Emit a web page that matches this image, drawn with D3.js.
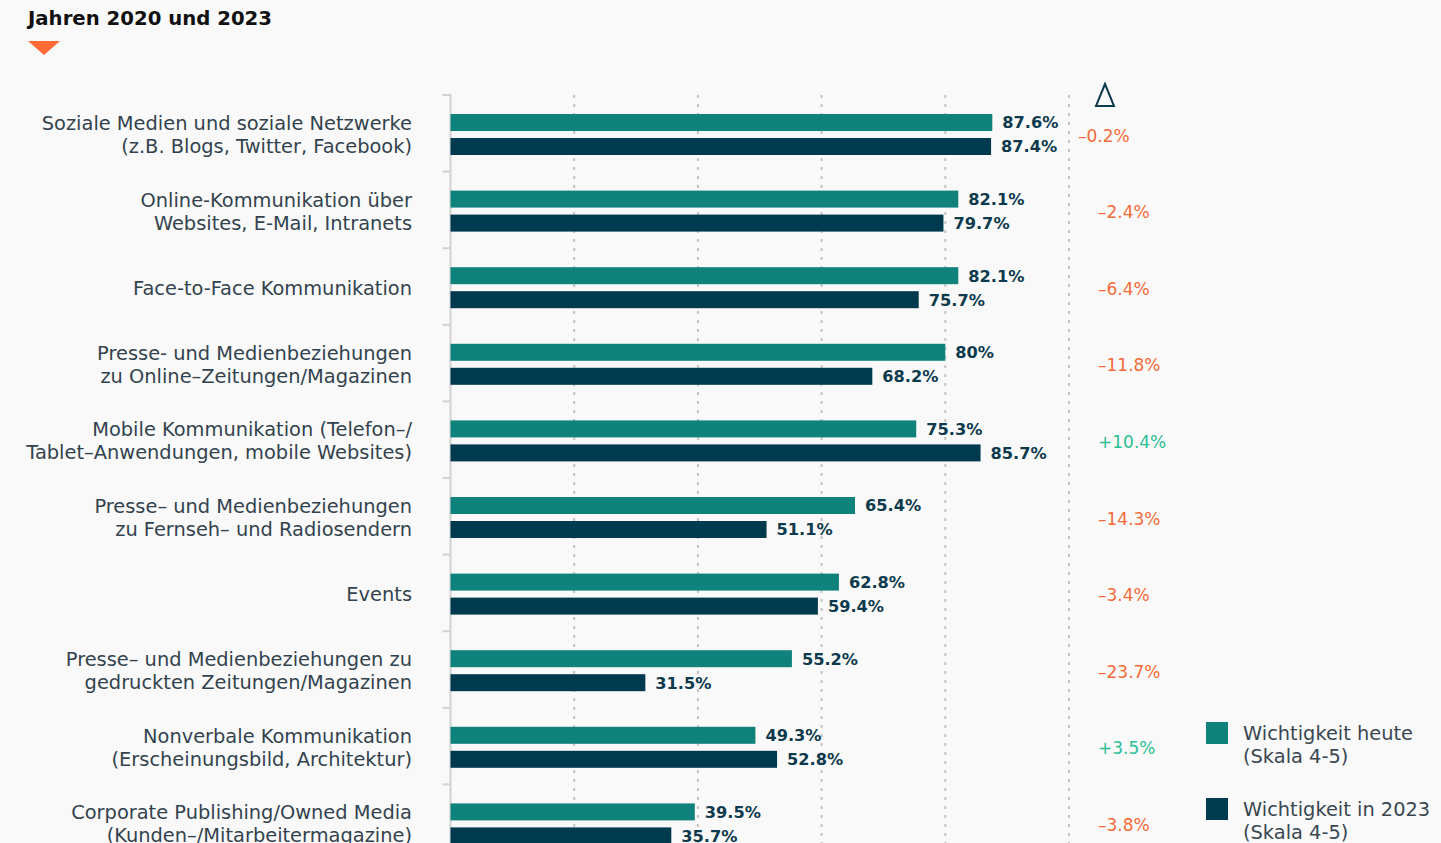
<!DOCTYPE html>
<html><head><meta charset="utf-8">
<script src="https://cdn.jsdelivr.net/npm/d3@7"></script>
<style>
html,body{margin:0;padding:0;background:#f9f9f9;overflow:hidden}
svg{display:block}
text{font-family:"DejaVu Sans","Open Sans",sans-serif}
</style></head>
<body><svg id="c" width="1441" height="843"></svg>
<script>
const titleText = "Jahren 2020 und 2023";
const categories = [
  "Soziale Medien und soziale Netzwerke|(z.B. Blogs, Twitter, Facebook)",
  "Online-Kommunikation über|Websites, E-Mail, Intranets",
  "Face-to-Face Kommunikation",
  "Presse- und Medienbeziehungen|zu Online–Zeitungen/Magazinen",
  "Mobile Kommunikation (Telefon–/|Tablet–Anwendungen, mobile Websites)",
  "Presse– und Medienbeziehungen|zu Fernseh– und Radiosendern",
  "Events",
  "Presse– und Medienbeziehungen zu|gedruckten Zeitungen/Magazinen",
  "Nonverbale Kommunikation|(Erscheinungsbild, Architektur)",
  "Corporate Publishing/Owned Media|(Kunden–/Mitarbeitermagazine)"
];
const valuesToday = [87.6, 82.1, 82.1, 80, 75.3, 65.4, 62.8, 55.2, 49.3, 39.5];
const values2023  = [87.4, 79.7, 75.7, 68.2, 85.7, 51.1, 59.4, 31.5, 52.8, 35.7];
const deltas      = [-0.2, -2.4, -6.4, -11.8, 10.4, -14.3, -3.4, -23.7, 3.5, -3.8];
const gridTicks   = [20, 40, 60, 80, 100];
const seriesKeys  = ["heute", "2023"];
const legendLabels = [["Wichtigkeit heute", "(Skala 4-5)"], ["Wichtigkeit in 2023", "(Skala 4-5)"]];

const colors = {heute: "#10827c", "2023": "#003a4f"};
const svg = d3.select("#c");

// title
svg.append("text").attr("x", 28).attr("y", 25).attr("font-size", 19.7).attr("font-weight", 700)
  .attr("fill", "#111").text(titleText);
svg.append("path").attr("d", "M28,41 L60,41 L44,55 Z").attr("fill", "#ff6b35");

const x = d3.scaleLinear().domain([0, 100]).range([450.5, 1069]);
const y = d3.scaleBand().domain(d3.range(categories.length)).range([95, 95 + 76.6 * categories.length]);
const ySub = d3.scaleBand().domain(seriesKeys).range([19, 60]).paddingInner(0.2917);

// gridlines
svg.append("g").selectAll("line").data(gridTicks).join("line")
  .attr("x1", d => x(d)).attr("x2", d => x(d)).attr("y1", 95).attr("y2", 843)
  .attr("stroke", "#c4c4c4").attr("stroke-width", 2).attr("stroke-dasharray", "3,6");

// axis
const axis = d3.axisLeft(y).tickSize(8).tickFormat("").tickSizeOuter(0);
const axisG = svg.append("g").attr("transform", `translate(${x(0)},0)`).call(axis);
axisG.selectAll(".tick").attr("transform", d => `translate(0,${y(d)})`);
axisG.selectAll(".tick line").attr("stroke", "#d2d2d2").attr("stroke-width", 2);
axisG.select(".domain").attr("stroke", "#d2d2d2").attr("stroke-width", 2).attr("d", `M-8,95 H0 V843`);

const data = categories.map((c, i) => ({i, c, heute: valuesToday[i], "2023": values2023[i], delta: deltas[i]}));

const rows = svg.append("g").selectAll("g").data(data).join("g")
  .attr("transform", d => `translate(0,${y(d.i)})`);

rows.selectAll("rect").data(d => seriesKeys.map(k => ({k, v: d[k]}))).join("rect")
  .attr("x", x(0)).attr("y", d => ySub(d.k)).attr("height", ySub.bandwidth())
  .attr("width", d => x(d.v) - x(0)).attr("fill", d => colors[d.k]);

rows.selectAll("text.val").data(d => seriesKeys.map(k => ({k, v: d[k]}))).join("text")
  .attr("class", "val").attr("x", d => x(d.v) + 10).attr("y", d => ySub(d.k) + ySub.bandwidth() / 2)
  .attr("dy", "0.36em").attr("font-size", 16.2).attr("font-weight", 700).attr("fill", "#0d3a4c")
  .text(d => d.v + "%");

const center = ySub.range()[0] + (ySub.range()[1] - ySub.range()[0]) / 2;
// category labels
rows.each(function(d) {
  const lines = d.c.split("|");
  const t = d3.select(this).append("text").attr("text-anchor", "end").attr("font-size", 19.4)
    .attr("fill", "#33434e");
  lines.forEach((l, j) => {
    t.append("tspan").attr("x", 412)
      .attr("y", center + (j - (lines.length - 1) / 2) * 23).attr("dy", "0.36em").text(l);
  });
});

// deltas
rows.append("text").attr("x", d => d.i === 0 ? 1078 : 1098).attr("y", center + 1).attr("dy", "0.36em")
  .attr("font-size", 17).attr("fill", d => d.delta < 0 ? "#f26b38" : "#2bbf95")
  .text(d => (d.delta < 0 ? "–" : "+") + Math.abs(d.delta) + "%");

// delta header
svg.append("path").attr("d", "M1105,84 L1096,106 L1114,106 Z").attr("fill", "none")
  .attr("stroke", "#0d3a4c").attr("stroke-width", 2);

// legend
const lg = svg.append("g").selectAll("g").data(seriesKeys).join("g")
  .attr("transform", (d, i) => `translate(1206,${722 + i * 76})`);
lg.append("rect").attr("width", 22).attr("height", 22).attr("fill", d => colors[d]);
lg.each(function(d, i) {
  const t = d3.select(this).append("text").attr("font-size", 19.4).attr("fill", "#3a4750");
  legendLabels[i].forEach((l, j) => t.append("tspan").attr("x", 37).attr("y", 11 + j * 23).attr("dy", "0.36em").text(l));
});
</script></body></html>
